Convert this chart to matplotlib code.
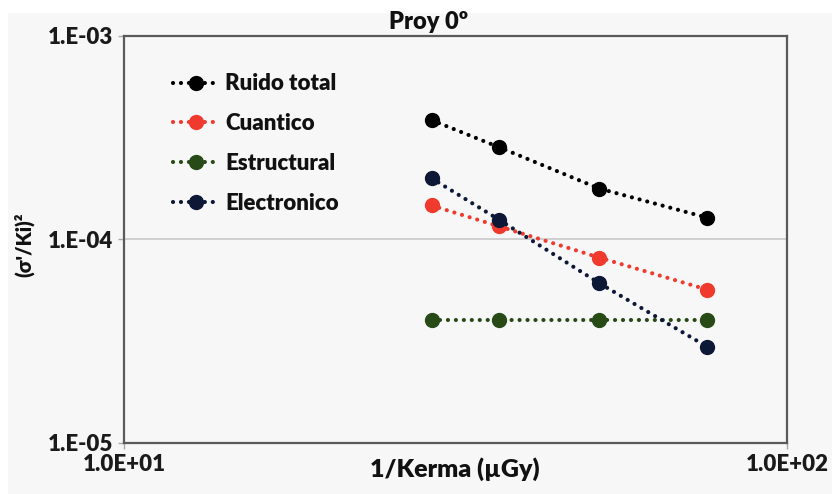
import matplotlib
matplotlib.use("Agg")
import matplotlib.pyplot as plt
from matplotlib.patches import Rectangle

plt.rcParams['font.family'] = ['Lato', 'DejaVu Sans']

inv_kerma = [29.1, 36.8, 52.1, 75.8]
ruido_total = [3.86e-4, 2.84e-4, 1.78e-4, 1.28e-4]
cuantico = [1.47e-4, 1.16e-4, 8.15e-5, 5.67e-5]
estructural = [4.0e-5, 4.0e-5, 4.0e-5, 4.0e-5]
electronico = [2.0e-4, 1.25e-4, 6.1e-5, 2.97e-5]

series_names = ["Ruido total", "Cuantico", "Estructural", "Electronico"]
series_colors = ["#000000", "#f03a2e", "#274a17", "#0d1736"]

x_ticks = [10, 100]
x_ticklabels = ["1.0E+01", "1.0E+02"]
y_ticks = [1e-5, 1e-4, 1e-3]
y_ticklabels = ["1.E-05", "1.E-04", "1.E-03"]

W = 'heavy'
bg = "#f7f7f7"
fig = plt.figure(figsize=(8.32, 4.94), dpi=100, facecolor=bg)
fig.patches.append(Rectangle((0, 0), 7/832, 1, transform=fig.transFigure, color="white", zorder=-1))
fig.patches.append(Rectangle((0, 1-12/494), 1, 12/494, transform=fig.transFigure, color="white", zorder=-1))

ax = fig.add_axes([124/832, 1-443/494, (787-124)/832, (443-36)/494])
ax.set_facecolor(bg)
ax.set_xscale('log')
ax.set_yscale('log')
ax.set_xlim(10, 100)
ax.set_ylim(1e-5, 1e-3)

for name, vals, col in zip(series_names, [ruido_total, cuantico, estructural, electronico], series_colors):
    ax.plot(inv_kerma, vals, linestyle=(0, (0.01, 1.9)), dash_capstyle='round', lw=3.0,
            color=col, marker='o', markersize=10, label=name, zorder=3)

ax.set_xticks(x_ticks)
ax.set_xticklabels(x_ticklabels)
ax.set_yticks(y_ticks)
ax.set_yticklabels(y_ticklabels)
ax.minorticks_off()
ax.tick_params(axis='both', which='major', length=4, width=1, color="#aaaaaa",
               labelsize=16, pad=4)
for lab in ax.get_xticklabels() + ax.get_yticklabels():
    lab.set_fontweight(W)
    lab.set_color('#1a1a1a')

ax.yaxis.grid(True, which='major', color='#c9c9c9', lw=1.2)
ax.set_axisbelow(True)
for sp in ax.spines.values():
    sp.set_color('#5a5a5a')
    sp.set_linewidth(1.6)

fig.text(429/832, 1-22/494, "Proy 0º", ha='center', va='center', fontsize=17, fontweight=W, color='#111111')
fig.text(455/832, 1-469/494, "1/Kerma (µGy)", ha='center', va='center', fontsize=18, fontweight=W, color='#111111')
fig.text(24/832, 1-245/494, "(σ'/Ki)²", rotation=90, ha='center', va='center',
         fontsize=14.5, fontweight=W, color='#111111')

leg = ax.legend(loc='upper left', bbox_to_anchor=(0.06, 0.93), frameon=False,
                prop={'weight': W, 'size': 16}, labelspacing=0.85,
                handlelength=2.1, handletextpad=0.25, borderaxespad=0)
for t in leg.get_texts():
    t.set_color('#111111')

fig.savefig("out.png", dpi=100, facecolor=fig.get_facecolor())
